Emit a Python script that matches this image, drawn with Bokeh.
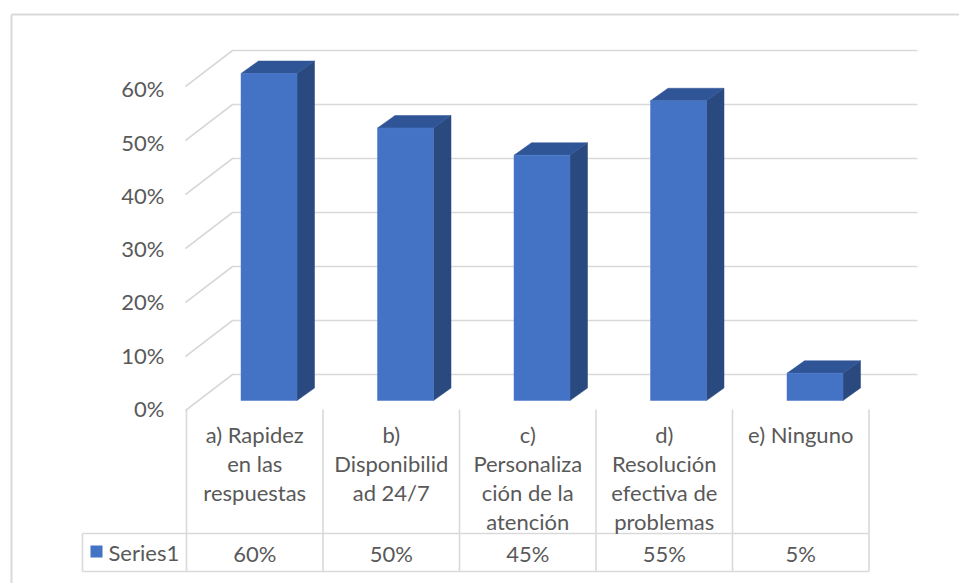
from bokeh.plotting import figure
from bokeh.models import Range1d
from bokeh.embed import file_html
from bokeh.resources import INLINE
from bokeh.core.properties import value

# ---------------- data ----------------
categories = [
    "a) Rapidez\nen las\nrespuestas",
    "b)\nDisponibilid\nad 24/7",
    "c)\nPersonaliza\nción de la\natención",
    "d)\nResolución\nefectiva de\nproblemas",
    "e) Ninguno",
]
values = [60, 50, 45, 55, 5]
value_labels = ["60%", "50%", "45%", "55%", "5%"]
y_ticks = [0, 10, 20, 30, 40, 50, 60]
y_tick_labels = ["0%", "10%", "20%", "30%", "40%", "50%", "60%"]
series_name = "Series1"

# ---------------- layout constants ----------------
W, H = 959, 583
XU, X0 = 136.5, 186.0     # px per category, px of category 0 left edge
YU, Y0 = 5.45, 400.0      # px per percent, px of 0% at bar front

def X(px):
    return (px - X0) / XU

def Y(py):
    return (Y0 - py) / YU

def LX(px):
    return px / XU

def LY(py):
    return py / YU

FONT = value("Lato")
TXT = "#595959"
GRID = "#d9d9d9"
FRONT = "#4472c4"
TOP = "#2f5597"
SIDE = "#29497f"

p = figure(width=W, height=H, x_range=Range1d(X(0), X(W)), y_range=Range1d(Y(H), Y(0)),
           output_backend="svg", toolbar_location=None, min_border=0,
           x_axis_type=None, y_axis_type=None, outline_line_color=None,
           background_fill_color="white", border_fill_color="white")
p.grid.visible = False

# outer chart frame
p.multi_line(xs=[[X(11), X(11)], [X(11), X(W + 5)]],
             ys=[[Y(H + 5), Y(14)], [Y(14), Y(14)]], line_color=GRID, line_width=2)

# ---------------- back wall / side wall gridlines ----------------
wall_scale = 5.4 / YU
back_off = Y(374)
front_off = Y(410)
xs, ys = [], []
for v in y_ticks:
    yb = back_off + v * wall_scale
    yf = front_off + v * wall_scale
    xs.append([X(185), X(232), X(917)])
    ys.append([yf, yb, yb])
p.multi_line(xs=xs, ys=ys, line_color=GRID, line_width=1.6)

# ---------------- 3D bars ----------------
bw = LX(56)
ddx = LX(17.5)
ddy = LY(12.5)
lefts = [i + LX(54.5) for i in range(len(values))]
rights = [l + bw for l in lefts]

side_x = [[r, r + ddx, r + ddx, r] for r in rights]
side_y = [[0, ddy, v + ddy, v] for v in values]
top_x = [[l, r, r + ddx, l + ddx] for l, r in zip(lefts, rights)]
top_y = [[v, v, v + ddy, v + ddy] for v in values]
p.patches(xs=side_x, ys=side_y, fill_color=SIDE, line_color=SIDE, line_width=0.5)
p.patches(xs=top_x, ys=top_y, fill_color=TOP, line_color=TOP, line_width=0.5)
p.quad(left=lefts, right=rights, bottom=[0] * len(values), top=values,
       fill_color=FRONT, line_color="#4a78c8", line_width=0.5)

# ---------------- y tick labels ----------------
p.text(x=[X(164)] * len(y_ticks), y=[Y(408 - 5.33 * v) for v in y_ticks], text=y_tick_labels,
       text_align="right", text_baseline="middle", text_color=TXT,
       text_font=FONT, text_font_size="22px")

# ---------------- data table ----------------
n = len(categories)
tx, ty = [], []
for i in range(n + 1):
    tx.append([i, i])
    ty.append([Y(409), Y(571)])
tx.append([X(82), X(82)])
ty.append([Y(533), Y(571)])
tx.append([X(82), n])
ty.append([Y(533), Y(533)])
tx.append([X(82), n])
ty.append([Y(571), Y(571)])
p.multi_line(xs=tx, ys=ty, line_color=GRID, line_width=1.6)

cx, cy, ct = [], [], []
for i, c in enumerate(categories):
    for j, line in enumerate(c.split("\n")):
        cx.append(i + 0.5)
        cy.append(Y(434 + 29 * j))
        ct.append(line)
p.text(x=cx, y=cy, text=ct, text_align="center", text_baseline="middle",
       text_color=TXT, text_font=FONT, text_font_size="22px")

p.text(x=[i + 0.5 for i in range(n)], y=[Y(553)] * n, text=value_labels,
       text_align="center", text_baseline="middle", text_color=TXT,
       text_font=FONT, text_font_size="22px")

# legend key
p.quad(left=[X(90)], right=[X(102)], bottom=[Y(557)], top=[Y(545)],
       fill_color=FRONT, line_color=None)
p.text(x=[X(108)], y=[Y(552)], text=[series_name], text_align="left", text_baseline="middle",
       text_color=TXT, text_font=FONT, text_font_size="22px")

open("out.html", "w").write(file_html(p, INLINE))
